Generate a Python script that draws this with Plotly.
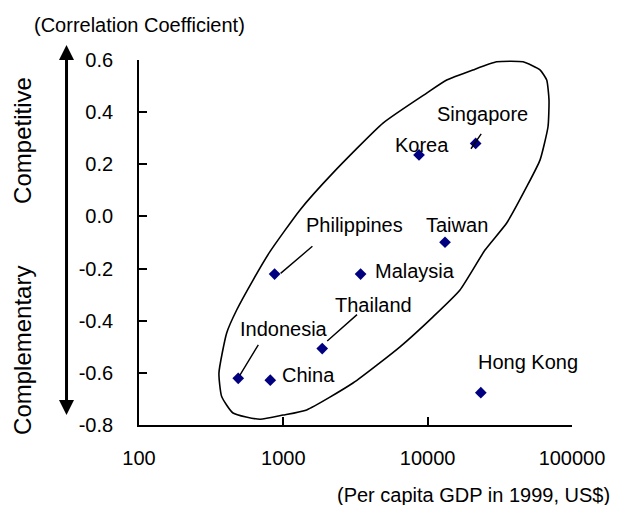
import numpy as np
import plotly.graph_objects as go

# ---- data ----
countries = ["Singapore", "Korea", "Taiwan", "Philippines", "Malaysia",
             "Thailand", "Indonesia", "China", "Hong Kong"]
gdp_1999 = [21500, 8710, 13190, 870, 3430, 1860, 487, 812, 23350]
corr_coef = [0.28, 0.236, -0.099, -0.221, -0.221, -0.507, -0.621, -0.628, -0.676]

x_tick_vals = [100, 1000, 10000, 100000]
x_tick_text = ["100", "1000", "10000", "100000"]
y_tick_vals = [-0.8, -0.6, -0.4, -0.2, 0.0, 0.2, 0.4, 0.6]
y_tick_text = ["-0.8", "-0.6", "-0.4", "-0.2", "0.0", "0.2", "0.4", "0.6"]

# hand-drawn enclosing loop (GDP, correlation)
loop_gdp = [689, 995, 1452, 3038, 6432, 10890, 16750, 24960, 35290, 48560,
            60020, 68200, 69290, 66800, 60020, 45780, 30090, 20610, 13550,
            9847, 4905, 2209, 1305, 808, 617, 475, 405, 358, 374, 448, 689]
loop_corr = [-0.778, -0.762, -0.742, -0.639, -0.500, -0.385, -0.282, -0.129,
             -0.025, 0.114, 0.216, 0.344, 0.447, 0.523, 0.562, 0.593, 0.593,
             0.562, 0.523, 0.473, 0.358, 0.167, 0.025, -0.135, -0.244, -0.359,
             -0.447, -0.601, -0.691, -0.754, -0.778]

# ---- styling (pixel offsets of labels / leader lines) ----
label_offsets = {  # dx, dy in screen px (dy down positive)
    "Singapore": (7, -29), "Korea": (3, -10), "Taiwan": (12, -17),
    "Philippines": (80, -49), "Malaysia": (54, -3), "Thailand": (51, -44),
    "Indonesia": (46, -49), "China": (38, -5), "Hong Kong": (47, -31),
}
leaders = {  # tip shift (dx, dy) and tail offset from tip (ax, ay)
    "Singapore": (-4.7, 5.3, 11.3, -16.3),
    "Philippines": (6, -0.7, 33.3, -28.3),
    "Thailand": (5, -7.6, 31.3, -27.7),
    "Indonesia": (1.7, -3.3, 19.3, -31.7),
}

FONT = "Arial, Liberation Sans, sans-serif"

fig = go.Figure()
fig.add_trace(go.Scatter(x=loop_gdp, y=loop_corr, mode="lines",
                         line=dict(color="black", width=1.6, shape="spline",
                                   smoothing=0.5),
                         hoverinfo="skip", showlegend=False, cliponaxis=False))
fig.add_trace(go.Scatter(x=gdp_1999, y=corr_coef, mode="markers",
                         marker=dict(symbol="diamond", size=9, color="#000080"),
                         text=countries, showlegend=False, cliponaxis=False))

annotations = []
for name, gx, cy in zip(countries, gdp_1999, corr_coef):
    dx, dy = label_offsets[name]
    annotations.append(dict(x=np.log10(gx), y=cy, xref="x", yref="y", text=name,
                            showarrow=False, xshift=dx, yshift=-dy,
                            xanchor="center", yanchor="middle",
                            font=dict(size=20, color="black", family=FONT)))
    if name in leaders:
        sx, sy, ax, ay = leaders[name]
        annotations.append(dict(x=np.log10(gx), y=cy, xref="x", yref="y", text="",
                                showarrow=True, arrowhead=0, arrowwidth=1.4,
                                arrowcolor="black", ax=ax, ay=ay,
                                xshift=sx, yshift=-sy))

def paper_text(x, y, text, size=20, angle=0):
    return dict(x=x, y=y, xref="paper", yref="paper", text=text, showarrow=False,
                xanchor="center", yanchor="middle", textangle=angle,
                font=dict(size=size, color="black", family=FONT))

# axis titles
annotations.append(paper_text(0.0023, 1.096, "(Correlation Coefficient)"))
annotations.append(paper_text(0.772, -0.192, "(Per capita GDP in 1999, US$)"))
# side labels
annotations.append(paper_text(-0.268, 0.781, "Competitive", size=24, angle=-90))
annotations.append(paper_text(-0.268, 0.2055, "Complementary", size=24, angle=-90))
# double arrow
annotations.append(dict(x=-0.1674, y=1.0411, xref="paper", yref="paper", text="",
                        showarrow=True, arrowhead=2, arrowside="end+start",
                        arrowwidth=3, arrowsize=1, arrowcolor="black",
                        ax=0, ay=371.5))

fig.update_layout(
    width=615, height=497,
    margin=dict(l=131, r=51, t=52, b=80),
    paper_bgcolor="white", plot_bgcolor="white",
    font=dict(family=FONT, size=20, color="black"),
    annotations=annotations,
    showlegend=False,
)
fig.update_xaxes(type="log", range=[2, 5], tickvals=x_tick_vals, ticktext=x_tick_text,
                 ticks="inside", ticklen=8, tickwidth=1.5, tickcolor="black",
                 showline=True, linecolor="black", linewidth=1.8,
                 showgrid=False, zeroline=False, ticklabelstandoff=14,
                 tickfont=dict(size=20, family=FONT))
fig.update_yaxes(range=[-0.8, 0.6], tickvals=y_tick_vals, ticktext=y_tick_text,
                 ticks="inside", ticklen=8, tickwidth=1.5, tickcolor="black",
                 showline=True, linecolor="black", linewidth=1.8,
                 showgrid=False, zeroline=False, ticklabelstandoff=20,
                 tickfont=dict(size=20, family=FONT))

fig.write_html("out.html")
